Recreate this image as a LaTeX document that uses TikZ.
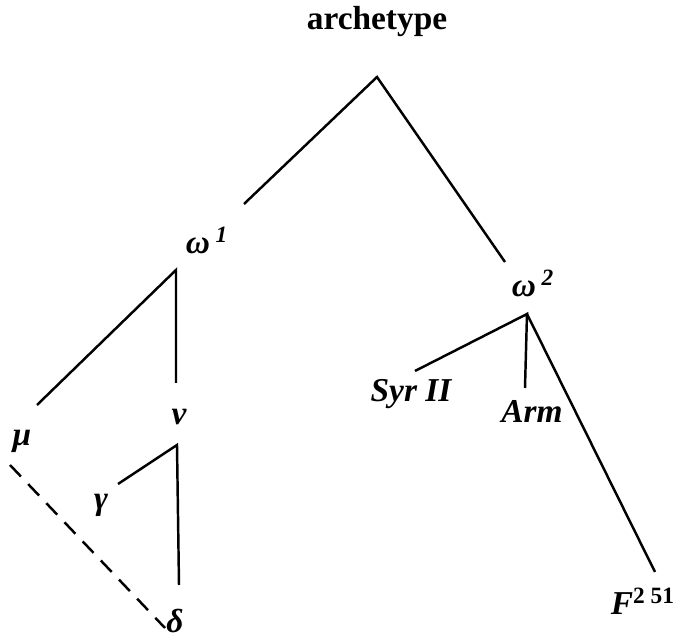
\documentclass[tikz,border=0pt]{standalone}
\usepackage{fontspec}
\setmainfont{Liberation Serif}
\usetikzlibrary{positioning}

\begin{document}
\begin{tikzpicture}[x=0.02cm, y=-0.02cm, line width=1.4pt,
    lbl/.style={font=\fontsize{19}{21}\selectfont\bfseries\itshape, inner sep=0pt},
    grk/.style={font=\fontsize{19}{21}\selectfont\bfseries\itshape, inner sep=0pt}]
    \useasboundingbox (0,0) rectangle (681,641);

    % labels
    \node[font=\fontsize{19}{21}\selectfont\bfseries, inner sep=0pt] (arch) at (377,22) {archetype};
    \node[lbl] (om1) at (207,240) {ω\,\textsuperscript{1}};
    \node[lbl] (om2) at (533,283) {ω\,\textsuperscript{2}};
    \node[grk] (mu) at (22,441) {μ};
    \node[grk] (nu) at (179,417) {ν};
    \node[grk] (ga) at (101,505) {γ};
    \node[grk] (de) at (175,621) {δ};
    \node[lbl] (syr) at (411,394) {Syr II};
    \node[lbl] (arm) at (532,411) {Arm};
    \node[lbl] (f) at (643,601) {F\textup{\textsuperscript{2 51}}};

    % junctions and free ends
    \coordinate (top) at (377,77);
    \coordinate (j1) at (176,270);
    \coordinate (j2) at (527,314);
    \coordinate (jnu) at (177,445);
    \coordinate (e1) at (244,204);
    \coordinate (e2) at (505,262);
    \coordinate (emu) at (37,405);
    \coordinate (enu) at (176,383);
    \coordinate (ega) at (118,484);
    \coordinate (ede) at (179,585);
    \coordinate (dmu) at (10,465);
    \coordinate (dde) at (165,628);
    \coordinate (esyr) at (415,371);
    \coordinate (earm) at (525,388);
    \coordinate (ef) at (655,572);

    % stemma
    \draw (e1) -- (top) -- (e2);
    \draw (emu) -- (j1) -- (enu);
    \draw (ega) -- (jnu) -- (ede);
    \draw[dashed, dash pattern=on 9pt off 6pt] (dmu) -- (dde);
    \draw (esyr) -- (j2) -- (earm);
    \draw (j2) -- (ef);
\end{tikzpicture}
\end{document}
